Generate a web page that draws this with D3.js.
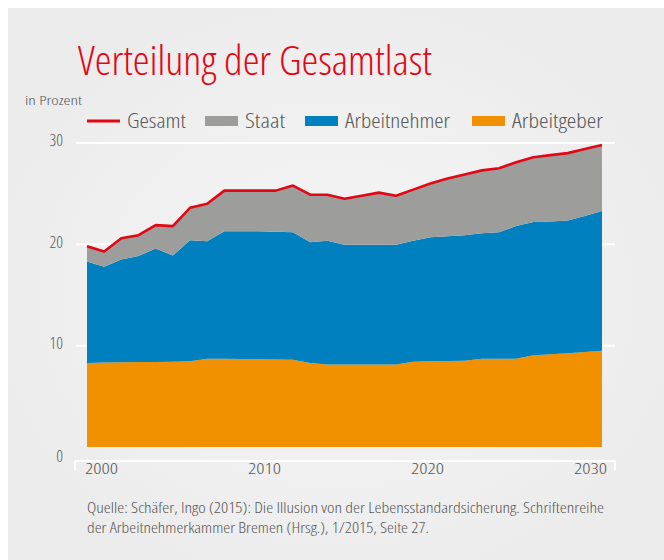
<!DOCTYPE html>
<html>
<head>
<meta charset="utf-8">
<script src="https://cdn.jsdelivr.net/npm/d3@7"></script>
<style>
  html, body { margin: 0; padding: 0; background: #fff; }
  svg { display: block; }
  text { font-family: "Open Sans", "DejaVu Sans Condensed", sans-serif; font-weight: 300; font-stretch: 75%; fill: #575757; }
</style>
</head>
<body>
<div id="chart"></div>
<script>
// data (percent)
const years = [2000, 2001, 2002, 2003, 2004, 2005, 2006, 2007, 2008, 2009,
               2010, 2011, 2012, 2013, 2014, 2015, 2016, 2017, 2018, 2019,
               2020, 2021, 2022, 2023, 2024, 2025, 2026, 2027, 2028, 2029, 2030];
const arbeitgeber = [8.3, 8.33, 8.36, 8.38, 8.4, 8.42, 8.45, 8.7, 8.7, 8.68,
                     8.66, 8.64, 8.62, 8.3, 8.15, 8.15, 8.15, 8.15, 8.15, 8.42,
                     8.45, 8.48, 8.52, 8.72, 8.72, 8.72, 9.05, 9.15, 9.25, 9.38, 9.5];
const arbeitnehmer = [10.0, 9.47, 10.14, 10.47, 11.2, 10.48, 11.95, 11.6, 12.6, 12.62,
                      12.64, 12.61, 12.58, 11.9, 12.2, 11.8, 11.8, 11.8, 11.8, 11.93,
                      12.25, 12.32, 12.38, 12.38, 12.48, 13.08, 13.15, 13.1, 13.1, 13.42, 13.8];
const staat = [1.5, 1.5, 2.1, 2.05, 2.3, 2.9, 3.2, 3.7, 4.0, 4.0,
               4.0, 4.05, 4.6, 4.7, 4.55, 4.55, 4.85, 5.15, 4.85, 5.05,
               5.3, 5.7, 6.0, 6.2, 6.3, 6.3, 6.4, 6.55, 6.65, 6.6, 6.5];
const seriesKeys = ["arbeitgeber", "arbeitnehmer", "staat"];
const legendNames = ["Gesamt", "Staat", "Arbeitnehmer", "Arbeitgeber"];
const yTicks = [0, 10, 20, 30];
const xTicks = [2000, 2010, 2020, 2030];

const WIDTH = 664;
const HEIGHT = 560;
const COLORS = {arbeitgeber: "#f29100", arbeitnehmer: "#0080be", staat: "#9d9d9c", gesamt: "#e30613"};

const svg = d3.select("#chart")
    .append("svg")
      .attr("width", WIDTH)
      .attr("height", HEIGHT);

// panel background with soft light centre
const grad = svg.append("defs").append("radialGradient")
    .attr("id", "bg")
    .attr("cx", "50%").attr("cy", "52%").attr("r", "60%");
grad.append("stop").attr("offset", "0%").attr("stop-color", "#f6f6f6");
grad.append("stop").attr("offset", "100%").attr("stop-color", "#ebebeb");

svg.append("rect")
    .attr("x", 8).attr("y", 8)
    .attr("width", WIDTH - 8).attr("height", HEIGHT - 8)
    .attr("fill", "url(#bg)");

// scales
const X_SCALE = d3.scaleLinear().domain([2000, 2030]).range([87, 602]);
const Y_SCALE = d3.scaleLinear().domain([0, 30]).range([447, 143]);
// year labels sit a bit inside the plot edges in the original
const X_LABEL_SCALE = d3.scaleLinear().domain([2000, 2030]).range([101, 590]);

// gridlines
svg.append("g")
  .selectAll("line")
  .data(yTicks.filter(d => d > 0))
  .enter()
  .append("line")
    .attr("x1", 76).attr("x2", 615)
    .attr("y1", d => Y_SCALE(d)).attr("y2", d => Y_SCALE(d))
    .attr("stroke", "#fff")
    .attr("stroke-width", 2);

// stacked areas
const rows = years.map((yr, i) => ({
    year: yr, arbeitgeber: arbeitgeber[i], arbeitnehmer: arbeitnehmer[i], staat: staat[i]
}));
const stacked = d3.stack().keys(seriesKeys)(rows);

const area = d3.area()
    .x(d => X_SCALE(d.data.year))
    .y0(d => Y_SCALE(d[0]))
    .y1(d => Y_SCALE(d[1]));

svg.append("g")
  .selectAll("path")
  .data(stacked)
  .enter()
  .append("path")
    .attr("d", area)
    .attr("fill", d => COLORS[d.key]);

// Gesamt line = top of the stack
const line = d3.line()
    .x(d => X_SCALE(d.data.year))
    .y(d => Y_SCALE(d[1]));

svg.append("path")
    .datum(stacked[stacked.length - 1])
    .attr("d", line)
    .attr("fill", "none")
    .attr("stroke", COLORS.gesamt)
    .attr("stroke-width", 2.6)
    .attr("stroke-linejoin", "round");

// y axis labels
const yAxis = svg.append("g")
    .attr("transform", "translate(63,0)")
    .call(d3.axisLeft(Y_SCALE).tickValues(yTicks).tickSize(0).tickPadding(0));
yAxis.select(".domain").remove();
yAxis.selectAll(".tick")
    .attr("transform", d => "translate(0," + (Y_SCALE(d) + (d === 0 ? 10 : -2)) + ")");
yAxis.selectAll("text")
    .attr("font-size", 16.5)
    .attr("fill", "#575757")
    .style("font-family", null);

// x axis: white bracket + year labels
svg.append("path")
    .attr("d", "M75,470V461H615V470")
    .attr("fill", "none")
    .attr("stroke", "#fff")
    .attr("stroke-width", 2);

const xAxis = svg.append("g")
    .attr("transform", "translate(0,463)")
    .call(d3.axisBottom(X_LABEL_SCALE).tickValues(xTicks).tickFormat(d3.format("d")).tickSize(0).tickPadding(0));
xAxis.select(".domain").remove();
xAxis.selectAll("text")
    .attr("font-size", 15)
    .attr("textLength", 33)
    .attr("lengthAdjust", "spacingAndGlyphs")
    .attr("fill", "#575757")
    .style("font-family", null);

// title
svg.append("text")
    .attr("x", 78).attr("y", 75)
    .attr("font-size", 40)
    .attr("textLength", 354)
    .attr("lengthAdjust", "spacingAndGlyphs")
    .style("fill", COLORS.gesamt)
    .text("Verteilung der Gesamtlast");

svg.append("text")
    .attr("x", 25).attr("y", 105)
    .attr("font-size", 13.5)
    .attr("textLength", 57)
    .attr("lengthAdjust", "spacingAndGlyphs")
    .text("in Prozent");

// legend
const legendX = [87, 205, 305, 472];
const legendW = [59, 40, 105, 91];
const legendColors = [COLORS.gesamt, COLORS.staat, COLORS.arbeitnehmer, COLORS.arbeitgeber];
const legend = svg.append("g")
  .selectAll("g")
  .data(legendNames)
  .enter()
  .append("g")
    .attr("transform", (d, i) => "translate(" + legendX[i] + ",121)");

legend.filter((d, i) => i === 0)
  .append("line")
    .attr("x1", 0).attr("x2", 33)
    .attr("stroke", COLORS.gesamt)
    .attr("stroke-width", 3);
legend.filter((d, i) => i > 0)
  .append("rect")
    .attr("x", 0).attr("y", -5)
    .attr("width", 33).attr("height", 10)
    .attr("fill", (d, i) => legendColors[i + 1]);
legend.append("text")
    .attr("x", 40).attr("y", 7)
    .attr("font-size", 20)
    .attr("textLength", (d, i) => legendW[i])
    .attr("lengthAdjust", "spacingAndGlyphs")
    .text(d => d);

// source
const source = [
  "Quelle: Schäfer, Ingo (2015): Die Illusion von der Lebensstandardsicherung. Schriftenreihe",
  "der Arbeitnehmerkammer Bremen (Hrsg.), 1/2015, Seite 27."
];
const sourceW = [517, 342];
svg.append("g")
  .selectAll("text")
  .data(source)
  .enter()
  .append("text")
    .attr("x", 87)
    .attr("y", (d, i) => 513 + i * 20)
    .attr("font-size", 14.5)
    .attr("textLength", (d, i) => sourceW[i])
    .attr("lengthAdjust", "spacingAndGlyphs")
    .text(d => d);
</script>
</body>
</html>
